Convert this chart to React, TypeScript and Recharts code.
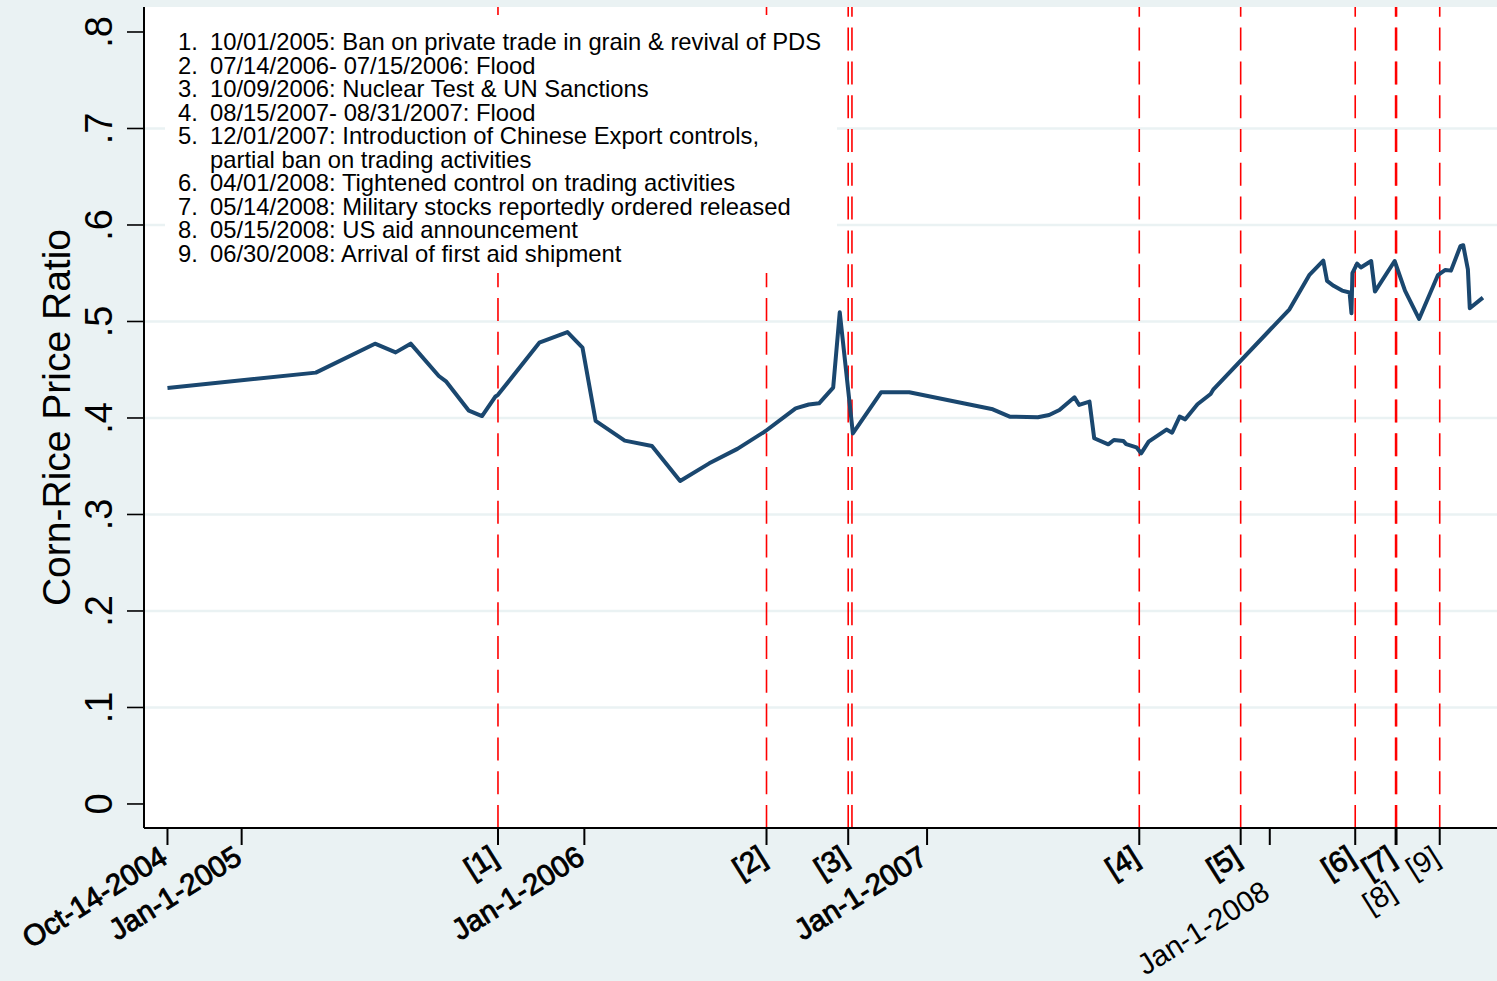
import React from 'react';
import { LineChart, Line, XAxis, YAxis, CartesianGrid, ReferenceLine } from 'recharts';

// ---- observations (date, corn/rice price ratio) ----
const obsDates = [
  '2004-10-14', '2005-03-21', '2005-05-23', '2005-06-14', '2005-06-30', '2005-07-30',
  '2005-08-07', '2005-08-31', '2005-09-14', '2005-09-28', '2005-10-01', '2005-11-14',
  '2005-12-14', '2005-12-30', '2006-01-13', '2006-02-13', '2006-03-14', '2006-04-13',
  '2006-05-14', '2006-06-13', '2006-07-13', '2006-08-14', '2006-08-28', '2006-09-08',
  '2006-09-23', '2006-09-30', '2006-10-14', '2006-11-13', '2006-12-13', '2007-03-12',
  '2007-03-30', '2007-04-29', '2007-05-11', '2007-05-22', '2007-06-07', '2007-06-12',
  '2007-06-23', '2007-06-28', '2007-07-13', '2007-07-19', '2007-07-29', '2007-08-01',
  '2007-08-12', '2007-08-17', '2007-08-25', '2007-09-13', '2007-09-19', '2007-09-27',
  '2007-10-03', '2007-10-16', '2007-10-30', '2007-11-02', '2008-01-22', '2008-02-12',
  '2008-02-27', '2008-03-02', '2008-03-09', '2008-03-18', '2008-03-26', '2008-03-28',
  '2008-03-29', '2008-04-03', '2008-04-07', '2008-04-18', '2008-04-22', '2008-05-13',
  '2008-05-24', '2008-06-08', '2008-06-28', '2008-07-06', '2008-07-12', '2008-07-22',
  '2008-07-25', '2008-07-30', '2008-08-01', '2008-08-15',
];
const ratios = [
  0.431, 0.447, 0.477, 0.468, 0.477, 0.4435,
  0.4376, 0.4076, 0.402, 0.422, 0.424, 0.478,
  0.489, 0.473, 0.397, 0.3765, 0.371, 0.3347,
  0.353, 0.368, 0.3865, 0.41, 0.414, 0.4152,
  0.4314, 0.5095, 0.384, 0.4266, 0.4266, 0.409,
  0.4014, 0.4007, 0.4031, 0.4083, 0.4214, 0.4135,
  0.4169, 0.379, 0.3727, 0.3772, 0.3762, 0.373,
  0.3696, 0.3634, 0.3755, 0.388, 0.3848, 0.4014,
  0.3986, 0.4142, 0.4249, 0.4297, 0.5126, 0.548,
  0.563, 0.542, 0.537, 0.532, 0.53, 0.5085,
  0.55, 0.56, 0.556, 0.5627, 0.531, 0.5627,
  0.532, 0.5026, 0.548, 0.5534, 0.5527, 0.578,
  0.579, 0.554, 0.5137, 0.5247,
];

// ---- axes ----
const yTicks = [0, 0.1, 0.2, 0.3, 0.4, 0.5, 0.6, 0.7, 0.8];
const yTickLabels = ['0', '.1', '.2', '.3', '.4', '.5', '.6', '.7', '.8'];
const gridValues = [0.1, 0.2, 0.3, 0.4, 0.5, 0.6, 0.7];
const yDomain = [-0.0249, 0.8259];
const xDomainDates = ['2004-09-19', '2008-08-30'];

const tickDates = [
  '2004-10-14', '2005-01-01', '2005-10-01', '2006-01-01', '2006-07-14', '2006-10-09',
  '2007-01-01', '2007-08-15', '2007-12-01', '2008-01-01', '2008-04-01', '2008-05-14',
  '2008-05-15', '2008-06-30',
];
const tickLabels = [
  'Oct-14-2004', 'Jan-1-2005', '[1]', 'Jan-1-2006', '[2]', '[3]',
  'Jan-1-2007', '[4]', '[5]', 'Jan-1-2008', '[6]', '[7]',
  '[8]', '[9]',
];
const lowerRowLabels = ['Jan-1-2008', '[8]'];
const lightLabels = ['Jan-1-2008', '[8]', '[9]'];

// ---- events ----
const eventLineDates = [
  '2005-10-01', '2006-07-14', '2006-10-09', '2006-10-13', '2007-08-15',
  '2007-12-01', '2008-04-01', '2008-05-14', '2008-05-15', '2008-06-30',
];
const eventNotes = [
  '10/01/2005: Ban on private trade in grain & revival of PDS',
  '07/14/2006- 07/15/2006: Flood',
  '10/09/2006: Nuclear Test & UN Sanctions',
  '08/15/2007- 08/31/2007: Flood',
  '12/01/2007: Introduction of Chinese Export controls,\npartial ban on trading activities',
  '04/01/2008: Tightened control on trading activities',
  '05/14/2008: Military stocks reportedly ordered released',
  '05/15/2008: US aid announcement',
  '06/30/2008: Arrival of first aid shipment',
];

const toTime = (d: string) => {
  const [y, m, dd] = d.split('-').map(Number);
  return Date.UTC(y, m - 1, dd);
};

const data = obsDates.map((d, i) => ({ t: toTime(d), ratio: ratios[i] }));
const tickTimes = tickDates.map(toTime);
const xDomain = xDomainDates.map(toTime);

const FONT = '"Liberation Sans", Arial, Helvetica, sans-serif';

function XTick(props: any) {
  const { x, y, payload } = props;
  const i = tickTimes.indexOf(payload.value);
  const label = tickLabels[i] ?? '';
  const lower = lowerRowLabels.includes(label);
  const light = lightLabels.includes(label);
  return (
    <text
      x={0}
      y={0}
      transform={`translate(${x + 2},${y + 17 + (lower ? 35 : 0)}) rotate(-32)`}
      textAnchor="end"
      fontSize={29.5}
      fontFamily={FONT}
      fill="#000"
      stroke={light ? 'none' : '#000'}
      strokeWidth={light ? 0 : 0.9}
    >
      {label}
    </text>
  );
}

function YTick(props: any) {
  const { x, y, payload } = props;
  const i = yTicks.indexOf(payload.value);
  return (
    <text
      x={0}
      y={0}
      transform={`translate(${x},${y}) rotate(-90)`}
      textAnchor="middle"
      fontSize={38}
      fontFamily={FONT}
      fill="#000"
    >
      {yTickLabels[i]}
    </text>
  );
}

function YTitle(props: any) {
  const vb = props && props.viewBox ? props.viewBox : { x: 0, y: 7, width: 144, height: 821 };
  return (
    <text
      x={0}
      y={0}
      transform={`translate(${vb.x + 70},${vb.y + vb.height / 2}) rotate(-90)`}
      textAnchor="middle"
      fontSize={39}
      fontFamily={FONT}
      fill="#000"
    >
      Corn-Rice Price Ratio
    </text>
  );
}

export default function App() {
  const rows: { num: string; text: string }[] = [];
  eventNotes.forEach((note, i) => {
    note.split('\n').forEach((part, j) => rows.push({ num: j === 0 ? `${i + 1}.` : '', text: part }));
  });
  return (
    <div
      style={{
        position: 'absolute',
        left: 0,
        top: 0,
        width: 1497,
        height: 981,
        background: '#eaf2f3',
        overflow: 'hidden',
      }}
    >
      <LineChart width={1497} height={981} data={data} margin={{ top: 7, right: 0, left: 0, bottom: 0 }}>
        <CartesianGrid
          vertical={false}
          horizontalValues={gridValues}
          stroke="#eaf2f3"
          strokeWidth={2.5}
          fill="#ffffff"
          fillOpacity={1}
        />
        <XAxis
          dataKey="t"
          type="number"
          scale="linear"
          domain={xDomain}
          allowDataOverflow
          ticks={tickTimes}
          interval={0}
          height={153}
          tickSize={17}
          tickMargin={0}
          tickLine={{ stroke: '#000', strokeWidth: 2 }}
          axisLine={{ stroke: '#000', strokeWidth: 2 }}
          tick={(p: any) => <XTick {...p} />}
        />
        <YAxis
          type="number"
          domain={yDomain}
          allowDataOverflow
          ticks={yTicks}
          interval={0}
          width={144}
          tickSize={17}
          tickMargin={15}
          tickLine={{ stroke: '#000', strokeWidth: 1.6 }}
          axisLine={{ stroke: '#000', strokeWidth: 2 }}
          tick={(p: any) => <YTick {...p} />}
          label={(p: any) => <YTitle {...p} />}
        />
        {eventLineDates.map((d) => (
          <ReferenceLine
            key={d}
            x={toTime(d)}
            stroke="#ff0000"
            strokeWidth={1.6}
            strokeDasharray="23 10.8"
            ifOverflow="hidden"
          />
        ))}
        <Line
          type="linear"
          dataKey="ratio"
          stroke="#1a476f"
          strokeWidth={4}
          strokeLinejoin="round"
          dot={false}
          activeDot={false}
          isAnimationActive={false}
        />
      </LineChart>
      <div
        style={{
          position: 'absolute',
          left: 165,
          top: 15,
          width: 672,
          height: 258,
          background: '#ffffff',
          fontFamily: FONT,
          fontSize: 23.8,
          color: '#000',
          paddingTop: 15,
          boxSizing: 'border-box',
        }}
      >
        {rows.map((r, k) => (
          <div key={k} style={{ position: 'relative', height: 23.55, lineHeight: '23.55px', whiteSpace: 'nowrap' }}>
            <span style={{ position: 'absolute', left: 13 }}>{r.num}</span>
            <span style={{ position: 'absolute', left: 45 }}>{r.text}</span>
          </div>
        ))}
      </div>
    </div>
  );
}
